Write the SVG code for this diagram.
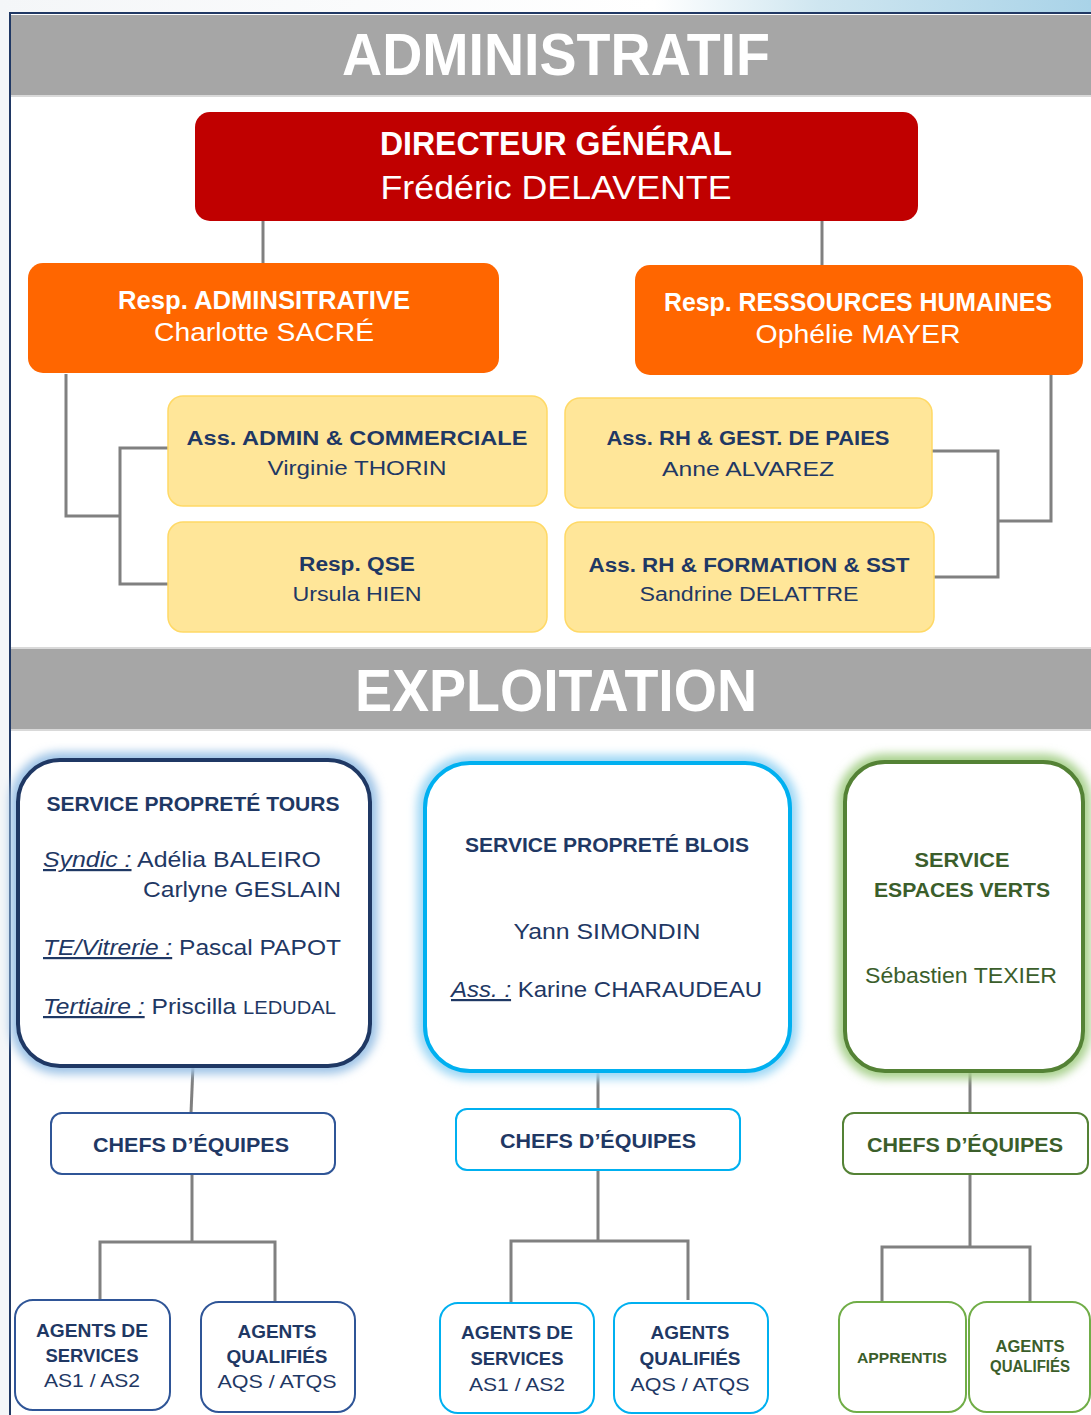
<svg xmlns="http://www.w3.org/2000/svg" width="1091" height="1415" viewBox="0 0 1091 1415">
<defs>
<linearGradient id="bgTop" x1="0" y1="0" x2="1" y2="0">
<stop offset="0" stop-color="#F4F6F8"/>
<stop offset="0.6" stop-color="#FFFFFF"/>
<stop offset="0.75" stop-color="#CFE6F0"/>
<stop offset="1" stop-color="#A9D3E8"/>
</linearGradient>
<filter id="glow" x="-15%" y="-15%" width="130%" height="130%">
<feGaussianBlur stdDeviation="5"/>
</filter>
<style>
.t{font-family:"Liberation Sans",Arial,sans-serif;}
.b{font-weight:bold;}
.c{text-anchor:middle;}
.hdr{font-family:"Liberation Sans Narrow","Liberation Sans",Arial,sans-serif;font-weight:bold;font-size:60px;fill:#FFFFFF;text-anchor:middle;}
.w{fill:#FFFFFF;}
.n{fill:#1F3864;}
.g{fill:#3B5E2B;}
.band{fill:#A6A6A6;}
.yel{fill:#FFE699;stroke:#FFD966;stroke-width:1.5;}
.con{fill:none;stroke:#808080;stroke-width:3;}
.u{font-style:italic;text-decoration:underline;}
</style>
</defs>
<rect x="0" y="0" width="1091" height="1415" fill="#F4F6F8"/>
<rect x="0" y="0" width="1091" height="14" fill="url(#bgTop)"/>
<rect x="10" y="13" width="1090" height="1410" fill="#FFFFFF" stroke="#203864" stroke-width="2"/>

<rect class="band" x="11" y="15" width="1080" height="80"/>
<line x1="11" y1="96" x2="1091" y2="96" stroke="#D9D9D9" stroke-width="2"/>
<text class="hdr" x="556" y="75" textLength="428" lengthAdjust="spacingAndGlyphs">ADMINISTRATIF</text>

<rect x="11" y="647" width="1080" height="2" fill="#D9D9D9"/>
<rect class="band" x="11" y="649" width="1080" height="80"/>
<line x1="11" y1="730" x2="1091" y2="730" stroke="#D9D9D9" stroke-width="2"/>
<text class="hdr" x="556" y="711" textLength="402" lengthAdjust="spacingAndGlyphs">EXPLOITATION</text>

<g id="connectors">
<path class="con" d="M263 221 V264"/>
<path class="con" d="M822 221 V265"/>
<path class="con" d="M66 374 V516 H120"/>
<path class="con" d="M168 448 H120 V584 H168"/>
<path class="con" d="M1051 375 V521 H998"/>
<path class="con" d="M932 451 H998 V577 H934"/>
<path class="con" d="M193 1066 L191 1113"/>
<path class="con" d="M192 1174 V1242"/>
<path class="con" d="M100 1300 V1242 H275 V1302"/>
<path class="con" d="M598 1071 V1109"/>
<path class="con" d="M598 1170 V1241"/>
<path class="con" d="M511 1303 V1241 H688 V1300"/>
<path class="con" d="M970 1071 V1113"/>
<path class="con" d="M970 1174 V1247"/>
<path class="con" d="M882 1301 V1247 H1030 V1302"/>
</g>

<g id="dg">
<rect x="195" y="112" width="723" height="109" rx="15" fill="#C00000"/>
<text class="t b c w" x="556" y="155" font-size="33" textLength="352" lengthAdjust="spacingAndGlyphs">DIRECTEUR GÉNÉRAL</text>
<text class="t c w" x="556" y="199" font-size="33" textLength="351" lengthAdjust="spacingAndGlyphs">Frédéric DELAVENTE</text>
</g>

<g id="resp-admin">
<rect x="28" y="263" width="471" height="110" rx="15" fill="#FF6600"/>
<text class="t b c w" x="264" y="309" font-size="25" textLength="292" lengthAdjust="spacingAndGlyphs">Resp. ADMINSITRATIVE</text>
<text class="t c w" x="264" y="341" font-size="25" textLength="220" lengthAdjust="spacingAndGlyphs">Charlotte SACRÉ</text>
</g>

<g id="resp-rh">
<rect x="635" y="265" width="448" height="110" rx="15" fill="#FF6600"/>
<text class="t b c w" x="858" y="311" font-size="25" textLength="388" lengthAdjust="spacingAndGlyphs">Resp. RESSOURCES HUMAINES</text>
<text class="t c w" x="858" y="343" font-size="25" textLength="205" lengthAdjust="spacingAndGlyphs">Ophélie MAYER</text>
</g>

<g id="ass-admin">
<rect class="yel" x="168" y="396" width="379" height="110" rx="15"/>
<text class="t b c n" x="357" y="445" font-size="20" textLength="341" lengthAdjust="spacingAndGlyphs">Ass. ADMIN &amp; COMMERCIALE</text>
<text class="t c n" x="357" y="475" font-size="20" textLength="179" lengthAdjust="spacingAndGlyphs">Virginie THORIN</text>
</g>

<g id="resp-qse">
<rect class="yel" x="168" y="522" width="379" height="110" rx="15"/>
<text class="t b c n" x="357" y="571" font-size="20" textLength="116" lengthAdjust="spacingAndGlyphs">Resp. QSE</text>
<text class="t c n" x="357" y="601" font-size="20" textLength="129" lengthAdjust="spacingAndGlyphs">Ursula HIEN</text>
</g>

<g id="ass-rh-paies">
<rect class="yel" x="565" y="398" width="367" height="110" rx="15"/>
<text class="t b c n" x="748" y="445" font-size="20" textLength="283" lengthAdjust="spacingAndGlyphs">Ass. RH &amp; GEST. DE PAIES</text>
<text class="t c n" x="748" y="476" font-size="20" textLength="172" lengthAdjust="spacingAndGlyphs">Anne ALVAREZ</text>
</g>

<g id="ass-rh-formation">
<rect class="yel" x="565" y="522" width="369" height="110" rx="15"/>
<text class="t b c n" x="749" y="572" font-size="20" textLength="321" lengthAdjust="spacingAndGlyphs">Ass. RH &amp; FORMATION &amp; SST</text>
<text class="t c n" x="749" y="601" font-size="20" textLength="219" lengthAdjust="spacingAndGlyphs">Sandrine DELATTRE</text>
</g>

<g id="service-tours">
<rect x="18" y="760" width="352" height="306" rx="42" fill="none" stroke="#9DC3E6" stroke-width="16" filter="url(#glow)"/>
<rect x="18" y="760" width="352" height="306" rx="42" fill="#FFFFFF" stroke="#1F3864" stroke-width="4"/>
<text class="t b c n" x="193" y="811" font-size="21" textLength="293" lengthAdjust="spacingAndGlyphs">SERVICE PROPRETÉ TOURS</text>
<text class="t n" x="43" y="867" font-size="22" textLength="278" lengthAdjust="spacingAndGlyphs"><tspan class="u">Syndic :</tspan> Adélia BALEIRO</text>
<text class="t n" x="143" y="897" font-size="22" textLength="198" lengthAdjust="spacingAndGlyphs">Carlyne GESLAIN</text>
<text class="t n" x="43" y="955" font-size="22" textLength="298" lengthAdjust="spacingAndGlyphs"><tspan class="u">TE/Vitrerie :</tspan> Pascal PAPOT</text>
<text class="t n" x="43" y="1014" font-size="22" textLength="293" lengthAdjust="spacingAndGlyphs"><tspan class="u">Tertiaire :</tspan> Priscilla <tspan font-size="18">LEDUDAL</tspan></text>
</g>

<g id="service-blois">
<rect x="425" y="763" width="365" height="308" rx="45" fill="none" stroke="#9DD7F5" stroke-width="16" filter="url(#glow)"/>
<rect x="425" y="763" width="365" height="308" rx="45" fill="#FFFFFF" stroke="#00B0F0" stroke-width="4"/>
<text class="t b c n" x="607" y="852" font-size="21" textLength="284" lengthAdjust="spacingAndGlyphs">SERVICE PROPRETÉ BLOIS</text>
<text class="t c n" x="607" y="939" font-size="22" textLength="187" lengthAdjust="spacingAndGlyphs">Yann SIMONDIN</text>
<text class="t n" x="451" y="997" font-size="22" textLength="311" lengthAdjust="spacingAndGlyphs"><tspan class="u">Ass. :</tspan> Karine CHARAUDEAU</text>
</g>

<g id="service-verts">
<rect x="845" y="762" width="238" height="309" rx="40" fill="none" stroke="#A9D18E" stroke-width="16" filter="url(#glow)"/>
<rect x="845" y="762" width="238" height="309" rx="40" fill="#FFFFFF" stroke="#548235" stroke-width="4"/>
<text class="t b c g" x="962" y="867" font-size="21" textLength="95" lengthAdjust="spacingAndGlyphs">SERVICE</text>
<text class="t b c g" x="962" y="897" font-size="21" textLength="176" lengthAdjust="spacingAndGlyphs">ESPACES VERTS</text>
<text class="t c g" x="961" y="983" font-size="22" textLength="192" lengthAdjust="spacingAndGlyphs">Sébastien TEXIER</text>
</g>

<g id="chefs-tours">
<rect x="51" y="1113" width="284" height="61" rx="11" fill="#FFFFFF" stroke="#2F5597" stroke-width="2"/>
<text class="t b c n" x="191" y="1152" font-size="20" textLength="196" lengthAdjust="spacingAndGlyphs">CHEFS D’ÉQUIPES</text>
</g>
<g id="chefs-blois">
<rect x="456" y="1109" width="284" height="61" rx="11" fill="#FFFFFF" stroke="#00B0F0" stroke-width="2"/>
<text class="t b c n" x="598" y="1148" font-size="20" textLength="196" lengthAdjust="spacingAndGlyphs">CHEFS D’ÉQUIPES</text>
</g>
<g id="chefs-verts">
<rect x="843" y="1113" width="245" height="61" rx="11" fill="#FFFFFF" stroke="#548235" stroke-width="2"/>
<text class="t b c g" x="965" y="1152" font-size="20" textLength="196" lengthAdjust="spacingAndGlyphs">CHEFS D’ÉQUIPES</text>
</g>

<g id="agents-services-tours">
<rect x="15" y="1300" width="155" height="110" rx="18" fill="#FFFFFF" stroke="#2F5597" stroke-width="2"/>
<text class="t b c n" x="92" y="1337" font-size="19" textLength="112" lengthAdjust="spacingAndGlyphs">AGENTS DE</text>
<text class="t b c n" x="92" y="1362" font-size="19" textLength="93" lengthAdjust="spacingAndGlyphs">SERVICES</text>
<text class="t c n" x="92" y="1387" font-size="19" textLength="96" lengthAdjust="spacingAndGlyphs">AS1 / AS2</text>
</g>
<g id="agents-qualifies-tours">
<rect x="201" y="1302" width="154" height="110" rx="18" fill="#FFFFFF" stroke="#2F5597" stroke-width="2"/>
<text class="t b c n" x="277" y="1338" font-size="19" textLength="79" lengthAdjust="spacingAndGlyphs">AGENTS</text>
<text class="t b c n" x="277" y="1363" font-size="19" textLength="101" lengthAdjust="spacingAndGlyphs">QUALIFIÉS</text>
<text class="t c n" x="277" y="1388" font-size="19" textLength="119" lengthAdjust="spacingAndGlyphs">AQS / ATQS</text>
</g>

<g id="agents-services-blois">
<rect x="440" y="1303" width="154" height="110" rx="18" fill="#FFFFFF" stroke="#00B0F0" stroke-width="2"/>
<text class="t b c n" x="517" y="1339" font-size="19" textLength="112" lengthAdjust="spacingAndGlyphs">AGENTS DE</text>
<text class="t b c n" x="517" y="1365" font-size="19" textLength="93" lengthAdjust="spacingAndGlyphs">SERVICES</text>
<text class="t c n" x="517" y="1391" font-size="19" textLength="96" lengthAdjust="spacingAndGlyphs">AS1 / AS2</text>
</g>
<g id="agents-qualifies-blois">
<rect x="614" y="1303" width="154" height="110" rx="18" fill="#FFFFFF" stroke="#00B0F0" stroke-width="2"/>
<text class="t b c n" x="690" y="1339" font-size="19" textLength="79" lengthAdjust="spacingAndGlyphs">AGENTS</text>
<text class="t b c n" x="690" y="1365" font-size="19" textLength="101" lengthAdjust="spacingAndGlyphs">QUALIFIÉS</text>
<text class="t c n" x="690" y="1391" font-size="19" textLength="119" lengthAdjust="spacingAndGlyphs">AQS / ATQS</text>
</g>

<g id="apprentis">
<rect x="839" y="1302" width="127" height="110" rx="18" fill="#FFFFFF" stroke="#70AD47" stroke-width="2"/>
<text class="t b c g" x="902" y="1363" font-size="15" textLength="90" lengthAdjust="spacingAndGlyphs">APPRENTIS</text>
</g>
<g id="agents-qualifies-verts">
<rect x="969" y="1302" width="121" height="110" rx="18" fill="#FFFFFF" stroke="#70AD47" stroke-width="2"/>
<text class="t b c g" x="1030" y="1352" font-size="16" textLength="69" lengthAdjust="spacingAndGlyphs">AGENTS</text>
<text class="t b c g" x="1030" y="1372" font-size="16" textLength="80" lengthAdjust="spacingAndGlyphs">QUALIFIÉS</text>
</g>
</svg>
